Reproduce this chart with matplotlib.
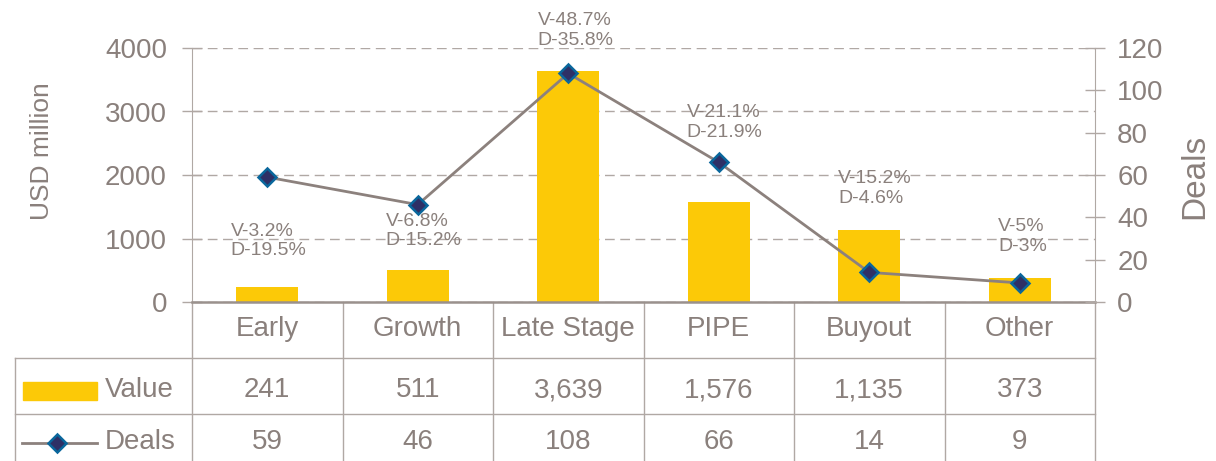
import matplotlib
matplotlib.use("Agg")
import matplotlib.pyplot as plt
import matplotlib.transforms as mtransforms
from matplotlib.patches import Rectangle
from matplotlib.lines import Line2D

categories = ["Early", "Growth", "Late Stage", "PIPE", "Buyout", "Other"]
values = [241, 511, 3639, 1576, 1135, 373]
deals = [59, 46, 108, 66, 14, 9]
change_labels = ["V-3.2%\nD-19.5%", "V-6.8%\nD-15.2%", "V-48.7%\nD-35.8%",
                 "V-21.1%\nD-21.9%", "V-15.2%\nD-4.6%", "V-5%\nD-3%"]
# where the labels sit (left axis units), placed by hand like in the source
label_y = [961, 1118, 4276, 2827, 1787, 1031]
label_dx = [0.01, 0.04, 0.05, 0.04, 0.04, 0.02]

TXT = "#8A807C"
LINE = "#B0A8A4"
BAR = "#FCC907"
plt.rcParams["font.family"] = ["Liberation Sans", "DejaVu Sans"]

W, H = 1216, 461
fig = plt.figure(figsize=(W / 100, H / 100), dpi=100)
ax = fig.add_axes([192 / W, 159 / H, 903 / W, 254 / H])
x = list(range(len(categories)))

ax.bar(x, values, width=0.41, color=BAR, zorder=2)
ax.set_xlim(-0.5, 5.5)
ax.set_ylim(0, 4000)
ax.set_yticks(range(0, 4001, 1000))
ax.set_xticks([])
ax.yaxis.grid(True, linestyle=(0, (7, 4)), color=LINE, linewidth=1)
ax.set_axisbelow(True)
ax.tick_params(axis="y", direction="inout", length=14, width=1, color=LINE,
               labelsize=20, labelcolor=TXT, pad=11)
for s in ["top", "right"]:
    ax.spines[s].set_visible(False)
ax.spines["left"].set_color(LINE)
ax.spines["bottom"].set_color("#9A918D")
ax.spines["bottom"].set_linewidth(1.8)

ax2 = ax.twinx()
ax2.plot(x, deals, color="#8C817D", linewidth=2, marker="D", markersize=9.5,
         markerfacecolor="#2E3066", markeredgecolor="#0A679C", markeredgewidth=1.8, zorder=3)
ax2.set_ylim(0, 120)
ax2.set_yticks(range(0, 121, 20))
ax2.tick_params(axis="y", direction="inout", length=14, width=1, color=LINE,
                labelsize=20, labelcolor=TXT, pad=9)
for s in ["top", "left", "bottom"]:
    ax2.spines[s].set_visible(False)
ax2.spines["right"].set_color(LINE)

for i, lab in enumerate(change_labels):
    ax.text(i + label_dx[i], label_y[i], lab, ha="center", va="center", multialignment="left",
            fontsize=14, color=TXT, clip_on=False, zorder=4)

fig.text(42 / W, 1 - 151 / H, "USD million", rotation=90, ha="center", va="center",
         fontsize=19, color=TXT)
fig.text(1195 / W, 1 - 176 / H, "Deals", rotation=90, ha="center", va="center",
         fontsize=24, color=TXT)

# data table under the plot
trans = mtransforms.blended_transform_factory(ax.transData, ax.transAxes)
left_edge = -1.676
row_lines = [-0.2205, -0.441]
bottom = -0.65
for xb in [i - 0.5 for i in range(len(categories) + 1)]:
    ax.add_line(Line2D([xb, xb], [0, bottom], transform=trans, color=LINE, lw=1, clip_on=False))
ax.add_line(Line2D([left_edge, left_edge], [row_lines[0], bottom], transform=trans,
                   color=LINE, lw=1, clip_on=False))
for yl in row_lines:
    ax.add_line(Line2D([left_edge, 5.5], [yl, yl], transform=trans, color=LINE, lw=1, clip_on=False))

for i in x:
    ax.text(i, -0.106, categories[i], transform=trans, ha="center", va="center",
            fontsize=20, color=TXT)
    ax.text(i, -0.347, f"{values[i]:,}", transform=trans, ha="center", va="center",
            fontsize=20, color=TXT)
    ax.text(i, -0.551, f"{deals[i]}", transform=trans, ha="center", va="center",
            fontsize=20, color=TXT)

# legend keys inside the table
ax.add_patch(Rectangle((-1.623, -0.386), 0.492, 0.071, transform=trans, color=BAR, clip_on=False))
ax.text(-1.078, -0.347, "Value", transform=trans, ha="left", va="center", fontsize=20, color=TXT)
ax.add_line(Line2D([-1.63, -1.131], [-0.555, -0.555], transform=trans, color="#8C817D",
                   lw=2, clip_on=False))
ax.add_line(Line2D([-1.397], [-0.555], transform=trans, marker="D", markersize=9.5,
                   markerfacecolor="#2E3066", markeredgecolor="#0A679C", markeredgewidth=1.8,
                   clip_on=False))
ax.text(-1.078, -0.551, "Deals", transform=trans, ha="left", va="center", fontsize=20, color=TXT)

fig.savefig("out.png", dpi=100)
